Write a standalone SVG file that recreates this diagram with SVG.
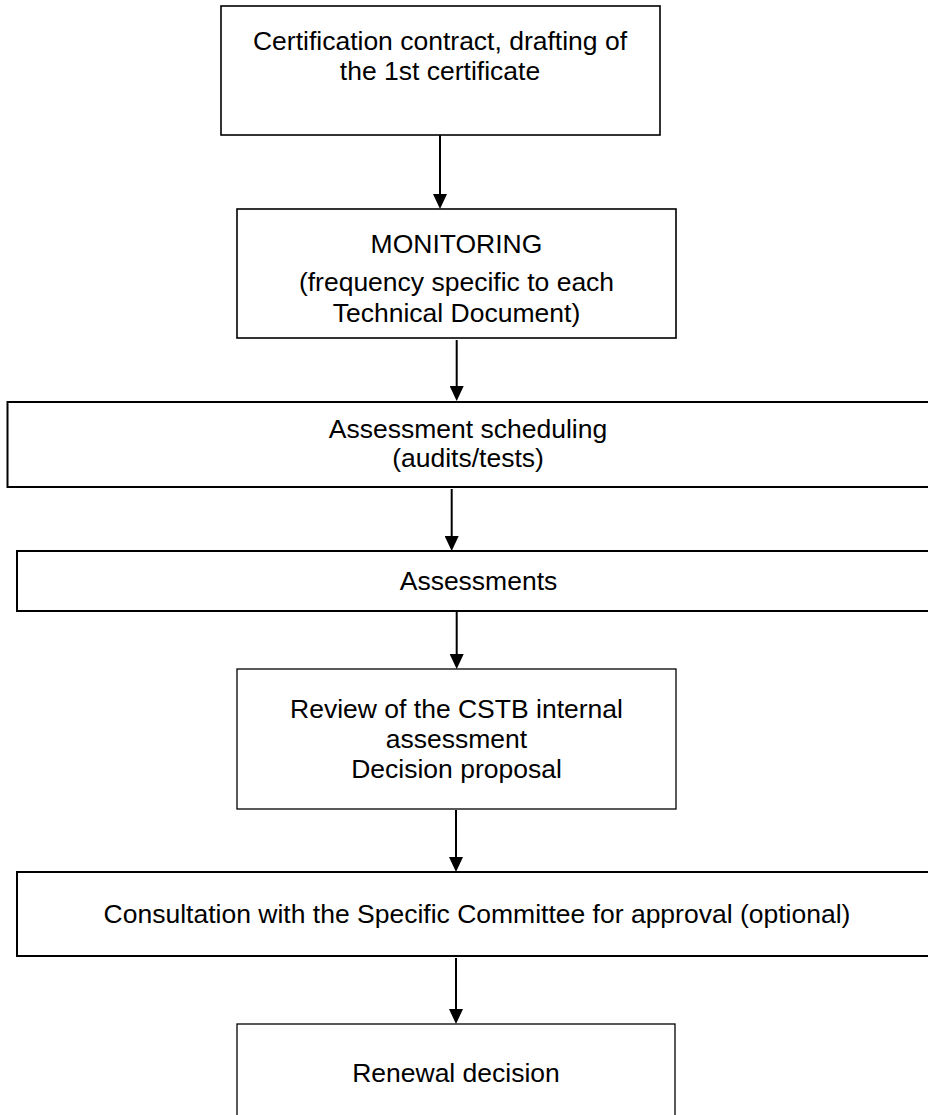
<svg xmlns="http://www.w3.org/2000/svg" width="928" height="1115" viewBox="0 0 928 1115">
<style>
.box{fill:#fff;stroke:#000}
.t{font-family:"Liberation Sans",Arial,sans-serif;font-size:26.5px;fill:#000;text-anchor:middle}
.c{stroke:#000;stroke-width:2;fill:none;marker-end:url(#ah)}
</style>
<defs>
<marker id="ah" markerUnits="userSpaceOnUse" viewBox="0 0 15 14" refX="3" refY="7" markerWidth="15" markerHeight="14" orient="auto">
<path d="M0,0 L15,7 L0,14 z" fill="#000"/>
</marker>
</defs>
<rect width="928" height="1115" fill="#fff"/>
<g id="connectors">
<line class="c" x1="440" y1="135" x2="440" y2="197"/>
<line class="c" x1="456.7" y1="340" x2="456.7" y2="389"/>
<line class="c" x1="451.7" y1="489" x2="451.7" y2="539"/>
<line class="c" x1="456.7" y1="612" x2="456.7" y2="657"/>
<line class="c" x1="456" y1="810" x2="456" y2="860"/>
<line class="c" x1="456" y1="958" x2="456" y2="1012"/>
</g>
<g id="n1">
<rect class="box" x="221" y="6" width="439" height="129" stroke-width="1.6"/>
<text class="t" x="440" y="50">Certification contract, drafting of</text>
<text class="t" x="440" y="80">the 1st certificate</text>
</g>
<g id="n2">
<rect class="box" x="237" y="209" width="439" height="129" stroke-width="1.6"/>
<text class="t" x="456.5" y="253">MONITORING</text>
<text class="t" x="456.5" y="291">(frequency specific to each</text>
<text class="t" x="456.5" y="322">Technical Document)</text>
</g>
<g id="n3">
<rect class="box" x="7.5" y="402" width="922" height="85" stroke-width="2"/>
<text class="t" x="468" y="438">Assessment scheduling</text>
<text class="t" x="468" y="467">(audits/tests)</text>
</g>
<g id="n4">
<rect class="box" x="17" y="551" width="923" height="60" stroke-width="2"/>
<text class="t" x="478.5" y="590">Assessments</text>
</g>
<g id="n5">
<rect class="box" x="237" y="669" width="439" height="140" stroke-width="1.3"/>
<text class="t" x="456.5" y="718">Review of the CSTB internal</text>
<text class="t" x="456.5" y="748">assessment</text>
<text class="t" x="456.5" y="778">Decision proposal</text>
</g>
<g id="n6">
<rect class="box" x="17" y="872" width="921" height="84" stroke-width="2"/>
<text class="t" x="477" y="923">Consultation with the Specific Committee for approval (optional)</text>
</g>
<g id="n7">
<rect class="box" x="237" y="1024" width="438" height="100" stroke-width="1.3"/>
<text class="t" x="456" y="1082">Renewal decision</text>
</g>
</svg>
